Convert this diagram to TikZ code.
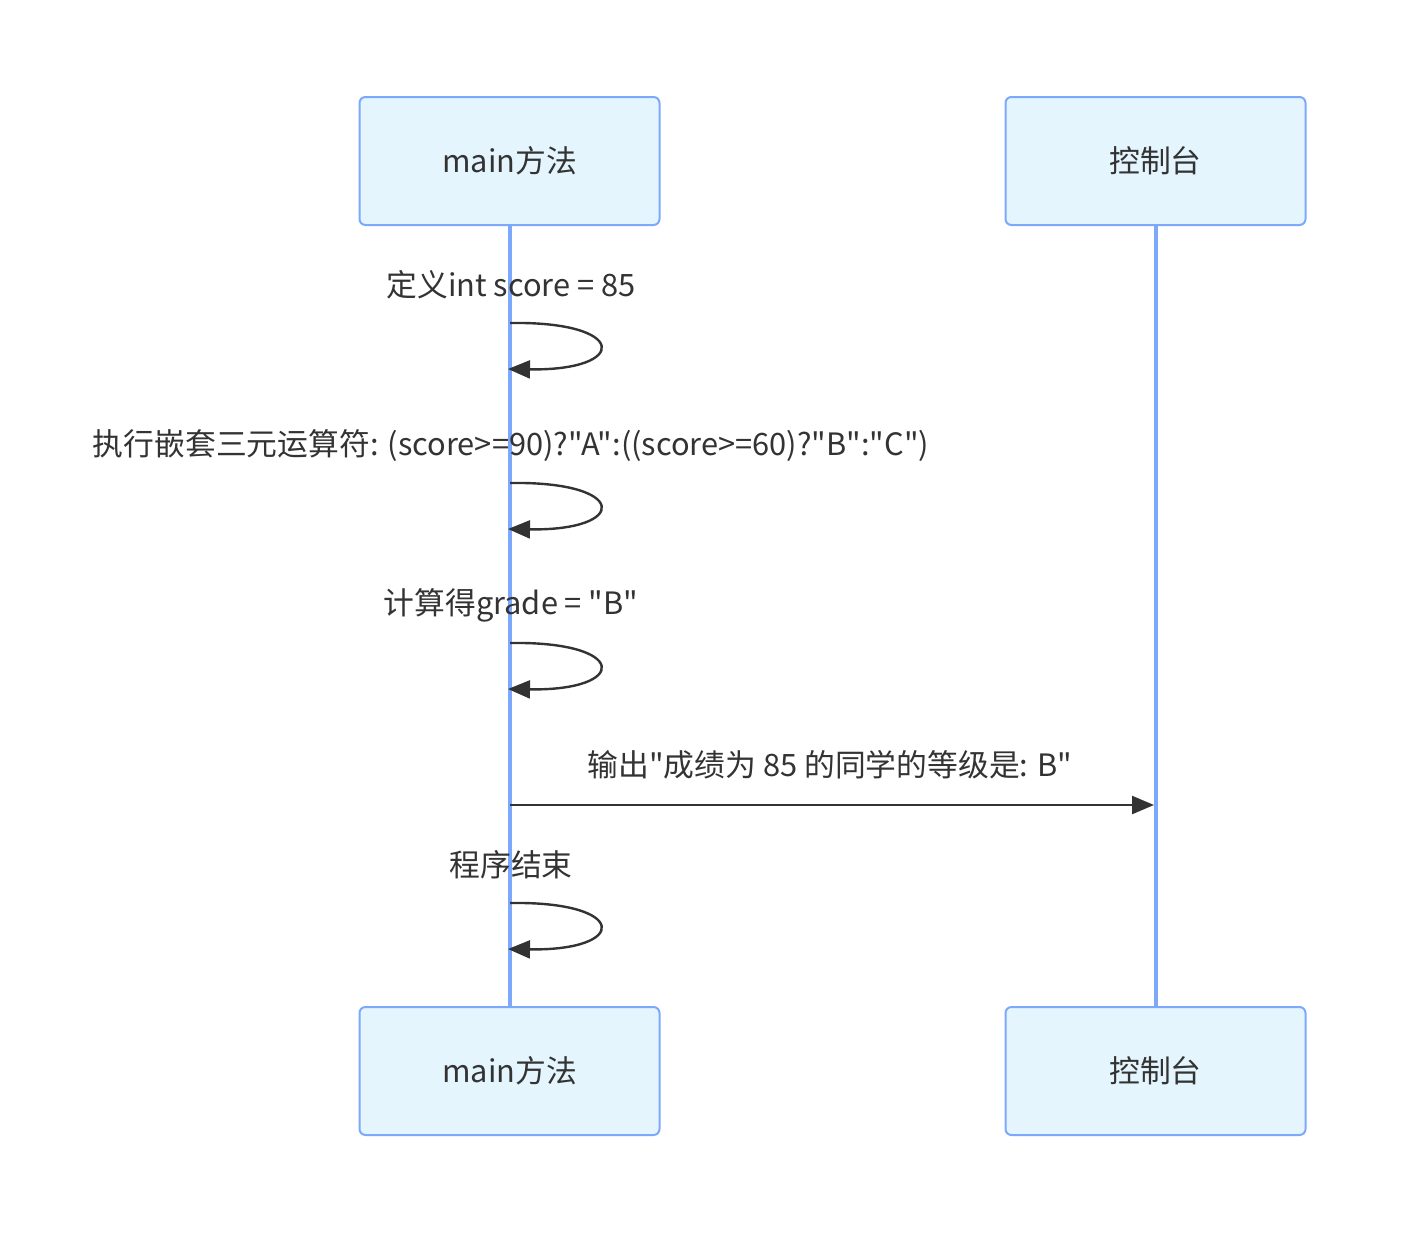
\documentclass[tikz,border=0pt]{standalone}
\usepackage{fontspec}
\newfontfamily\cjk{Noto Sans CJK SC}
\usetikzlibrary{arrows.meta}
\definecolor{boxfill}{HTML}{E4F5FE}
\definecolor{boxline}{HTML}{7CA9FC}
\definecolor{txt}{HTML}{333333}
\tikzset{
  actor/.style={draw=boxline, fill=boxfill, line width=1pt, rounded corners=3pt,
    minimum width=150pt, minimum height=64pt, inner sep=0pt, text=txt, font=\cjk\fontsize{15.4pt}{18pt}\selectfont},
  life/.style={draw=boxline, line width=2pt},
  msg/.style={draw=txt, line width=1.2pt, -{Triangle[length=11pt,width=9pt]}},
  lbl/.style={text=txt, font=\cjk\fontsize{15.4pt}{18pt}\selectfont, inner sep=0pt, anchor=center},
}
\begin{document}
\begin{tikzpicture}[x=0.5pt,y=-0.5pt]
\useasboundingbox[fill=white] (0,0) rectangle (1401,1232);
% actors
\node[actor] (mt) at (509.5,161) {main方法};
\node[actor] (ct) at (1155.5,161) {控制台};
\node[actor] (mb) at (509.5,1071) {main方法};
\node[actor] (cb) at (1155.5,1071) {控制台};
\draw[life] (mt.south) -- (mb.north);
\draw[life] (ct.south) -- (cb.north);
% self messages
\foreach \y/\t/\n in {285/{定义int score = 85}/a, 445/{执行嵌套三元运算符: (score>=90)?"A":((score>=60)?"B":"C")}/b, 605/{计算得grade = "B"}/c, 865/{程序结束}/d}{
  \node[lbl] (l\n) at (511,\y) {\t};
  \coordinate (s\n) at (510,\y+38);
  \coordinate (e\n) at (508,\y+84);
  \draw[msg] (s\n) .. controls (629,\y+36) and (629,\y+86) .. (e\n);
}
% message to console
\coordinate (p1) at (510,805);
\coordinate (p2) at (1154,805);
\draw[msg] (p1) -- (p2);
\node[lbl] (lm) at (830,765) {输出"成绩为 85 的同学的等级是: B"};
\end{tikzpicture}
\end{document}
